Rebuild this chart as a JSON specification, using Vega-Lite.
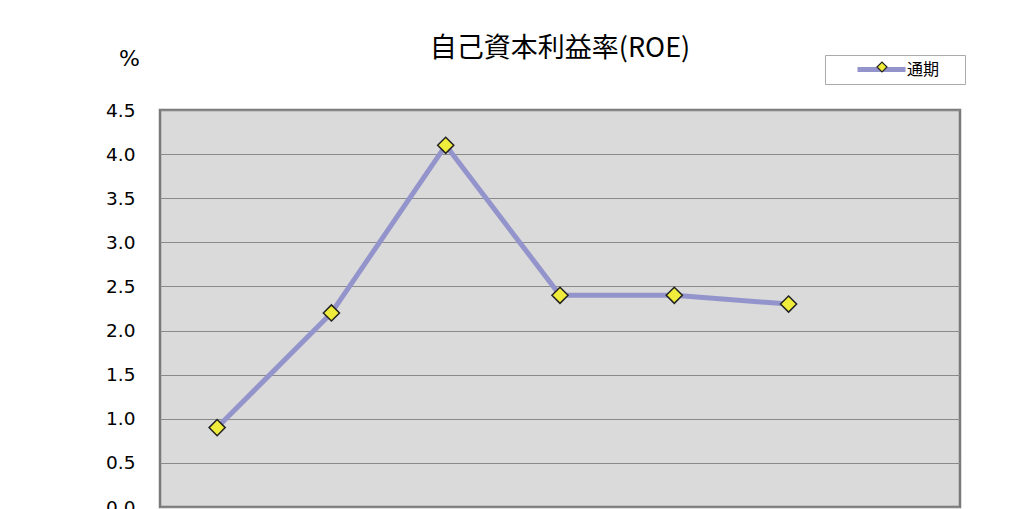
{
  "$schema": "https://vega.github.io/schema/vega-lite/v6.json",
  "autosize": {"type": "none"},
  "width": 800,
  "height": 397,
  "padding": {"left": 160, "top": 110, "right": 59, "bottom": 2},
  "background": "#ffffff",
  "title": {
    "text": "自己資本利益率(ROE)",
    "anchor": "middle",
    "frame": "group",
    "font": "Noto Sans CJK JP",
    "fontSize": 27,
    "fontWeight": "normal",
    "color": "#000000",
    "baseline": "middle",
    "offset": 0,
    "dy": 29
  },
  "data": {
    "values": [
      {"period": "平成16年度", "series": "通期", "roe": 0.9},
      {"period": "平成17年度", "series": "通期", "roe": 2.2},
      {"period": "平成18年度", "series": "通期", "roe": 4.1},
      {"period": "平成19年度", "series": "通期", "roe": 2.4},
      {"period": "平成20年度", "series": "通期", "roe": 2.4},
      {"period": "平成21年度", "series": "通期", "roe": 2.3},
      {"period": "平成22年度", "series": "通期", "roe": null}
    ]
  },
  "encoding": {
    "x": {
      "field": "period",
      "type": "ordinal",
      "sort": null,
      "scale": {"type": "point", "padding": 0.5, "domain": ["平成16年度", "平成17年度", "平成18年度", "平成19年度", "平成20年度", "平成21年度", "平成22年度"]},
      "axis": {"title": null, "labelAngle": 0, "domain": false, "ticks": false, "grid": false, "labelFontSize": 16, "labelFont": "Noto Sans CJK JP", "labelColor": "#000000", "labelPadding": 8}
    },
    "y": {
      "field": "roe",
      "type": "quantitative",
      "scale": {"domain": [0, 4.5], "nice": false, "zero": true},
      "axis": {
        "title": "%",
        "titleAngle": 0,
        "titleX": -31,
        "titleY": -52,
        "titleAlign": "center",
        "titleBaseline": "middle",
        "titleFont": "DejaVu Sans",
        "titleFontSize": 22,
        "titleFontWeight": "normal",
        "titleColor": "#000000",
        "values": [0, 0.5, 1, 1.5, 2, 2.5, 3, 3.5, 4, 4.5],
        "format": ".1f",
        "labelFont": "DejaVu Sans",
        "labelFontSize": 18.5,
        "labelColor": "#000000",
        "labelPadding": 25,
        "ticks": false,
        "domain": false,
        "grid": true,
        "gridColor": "#8a8a8a",
        "gridWidth": 1.2
      }
    }
  },
  "layer": [
    {
      "mark": {"type": "line", "strokeWidth": 5, "strokeCap": "round", "strokeJoin": "round"},
      "encoding": {
        "stroke": {
          "field": "series",
          "type": "nominal",
          "scale": {"range": ["#9494cc"]},
          "legend": {
            "orient": "none",
            "legendX": 665,
            "legendY": -55,
            "title": "通期",
            "titleOrient": "right",
            "titleOpacity": 0,
            "titleFontSize": 10,
            "titlePadding": 2,
            "padding": 4,
            "strokeColor": "#aaaaaa",
            "fillColor": "#ffffff",
            "symbolType": "M-3,0L3,0",
            "symbolSize": 256,
            "symbolStrokeWidth": 5,
            "symbolOffset": 42,
            "labelOffset": 15,
            "labelFont": "Noto Sans CJK JP",
            "labelFontSize": 16,
            "labelColor": "#000000"
          }
        }
      }
    },
    {
      "mark": {"type": "point", "shape": "diamond", "filled": true, "size": 260, "stroke": "#222222", "strokeWidth": 1.5, "opacity": 1},
      "encoding": {
        "fill": {
          "field": "series",
          "type": "nominal",
          "scale": {"range": ["#f0ec3c"]},
          "legend": {
            "orient": "none",
            "legendX": 665,
            "legendY": -55,
            "title": null,
            "padding": 4,
            "zindex": 2,
            "symbolType": "diamond",
            "symbolSize": 100,
            "symbolStrokeColor": "#222222",
            "symbolStrokeWidth": 1.2,
            "symbolOffset": 45,
            "labelOffset": 15,
            "labelFontSize": 16,
            "labelOpacity": 0
          }
        }
      }
    }
  ],
  "config": {
    "view": {"fill": "#dadada", "stroke": "#7a7a7a", "strokeWidth": 2.5}
  }
}
